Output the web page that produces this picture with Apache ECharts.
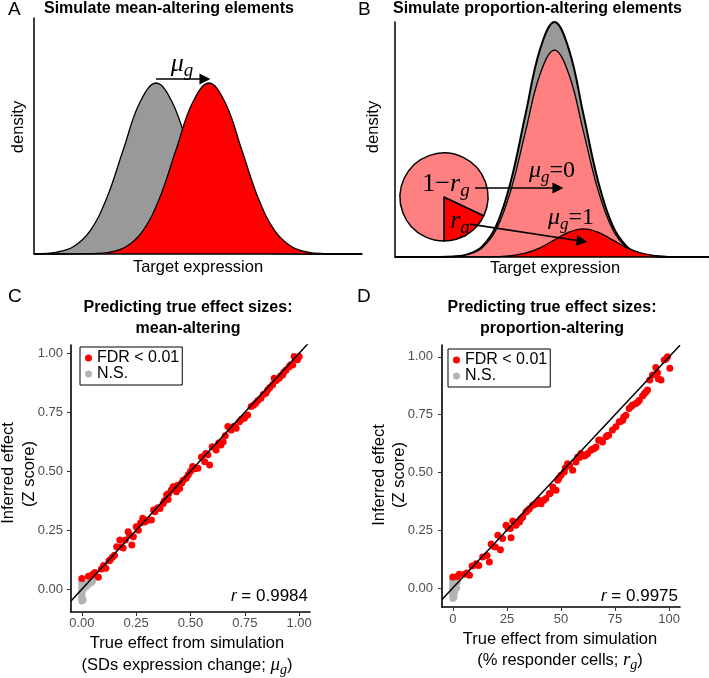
<!DOCTYPE html>
<html lang="en">
<head>
<meta charset="utf-8">
<title>Simulated effects</title>
<script src="https://cdn.jsdelivr.net/npm/echarts@6/dist/echarts.min.js"></script>
</head>
<body style="margin:0;background:#fff">
<div id="main" style="width:709px;height:678px;"></div>
<script>
// A: density curves (x in SD units, y relative density)
var aGray = [[0,0.0011],[0.7,0.0111],[1.2,0.0439],[1.7,0.1353],[2.2,0.3247],[2.7,0.6065],[3.2,0.8825],[3.7,1],[4.2,0.8825],[4.7,0.6065],[5.2,0.3247],[5.7,0.1353],[6.2,0.0439],[6.7,0.0111],[7.2,0.0022],[7.7,0.0003],[9.94,0]];
var aRed = [[0,0],[1.3,0.0003],[1.8,0.0022],[2.3,0.0111],[2.8,0.0439],[3.3,0.1353],[3.8,0.3247],[4.3,0.6065],[4.8,0.8825],[5.3,1],[5.8,0.8825],[6.3,0.6065],[6.8,0.3247],[7.3,0.1353],[7.8,0.0439],[8.3,0.0111],[8.8,0.0022],[9.3,0.0003],[9.94,0]];
// B: whole population, non-responders, responders
var bGray = [[0,0],[1.5,0.0003],[2,0.0022],[2.5,0.0111],[3,0.0439],[3.5,0.1353],[4,0.3247],[4.5,0.6065],[5,0.8825],[5.5,1],[6,0.8825],[6.5,0.6065],[7,0.3247],[7.5,0.1353],[8,0.0439],[8.5,0.0111],[9,0.0022],[9.5,0.0003],[10.83,0]];
var bPink = [[0,0],[1.5,0.0003],[2,0.0019],[2.5,0.0098],[3,0.0386],[3.5,0.1191],[4,0.2857],[4.5,0.5337],[5,0.7766],[5.5,0.88],[6,0.7766],[6.5,0.5337],[7,0.2857],[7.5,0.1191],[8,0.0386],[8.5,0.0098],[9,0.0019],[9.5,0.0003],[10.83,0]];
var bRed = [[0,0],[3,0.0003],[3.5,0.0013],[4,0.0053],[4.5,0.0162],[5,0.039],[5.5,0.0728],[6,0.1059],[6.5,0.12],[7,0.1059],[7.5,0.0728],[8,0.039],[8.5,0.0162],[9,0.0053],[9.5,0.0013],[10,0.0003],[10.83,0]];
var pieShare = [0.18, 0.82];

// C: mean-altering
var cRed = [[0,0.045],[0.03,0.055],[0.045,0.059],[0.053,0.064],[0.06,0.07],[0.076,0.05],[0.09,0.085],[0.1,0.1],[0.11,0.088],[0.125,0.12],[0.13,0.123],[0.14,0.135],[0.15,0.144],[0.16,0.18],[0.175,0.208],[0.18,0.18],[0.19,0.174],[0.2,0.208],[0.213,0.243],[0.22,0.23],[0.23,0.187],[0.237,0.222],[0.25,0.264],[0.26,0.25],[0.27,0.28],[0.28,0.3],[0.29,0.285],[0.305,0.293],[0.32,0.293],[0.33,0.335],[0.336,0.328],[0.35,0.345],[0.36,0.342],[0.374,0.363],[0.38,0.375],[0.39,0.4],[0.397,0.38],[0.4,0.405],[0.412,0.42],[0.42,0.434],[0.435,0.413],[0.44,0.44],[0.45,0.427],[0.46,0.45],[0.466,0.462],[0.48,0.47],[0.49,0.485],[0.5,0.5],[0.51,0.52],[0.52,0.51],[0.534,0.512],[0.55,0.56],[0.565,0.54],[0.57,0.575],[0.58,0.57],[0.588,0.526],[0.6,0.604],[0.61,0.6],[0.618,0.59],[0.63,0.62],[0.64,0.611],[0.65,0.625],[0.66,0.65],[0.672,0.689],[0.687,0.675],[0.7,0.69],[0.71,0.682],[0.725,0.71],[0.735,0.72],[0.748,0.724],[0.763,0.738],[0.779,0.774],[0.79,0.78],[0.8,0.788],[0.81,0.8],[0.824,0.809],[0.835,0.825],[0.847,0.83],[0.855,0.844],[0.865,0.855],[0.878,0.866],[0.885,0.894],[0.895,0.885],[0.908,0.894],[0.915,0.905],[0.924,0.908],[0.93,0.92],[0.94,0.929],[0.954,0.943],[0.96,0.95],[0.97,0.95],[0.977,0.986],[0.985,0.975],[0.992,0.972],[1,0.986]];
var cGray = [[0,-0.05],[0,-0.042],[0,-0.034],[0,-0.026],[0,-0.018],[0,-0.01],[0,-0.002],[0,0.006],[0,0.014],[0,0.022],[0,0.03],[0,0.038],[0.006,-0.045],[0.008,0.002],[0.01,0.015],[0.015,0.008],[0.02,0.01],[0.022,0.025],[0.03,0.02],[0.036,0.03],[0.045,0.028],[0.05,0.035]];
// D: proportion-altering
var dRed = [[0,0.048],[2,0.05],[3,0.06],[5.4,0.06],[6.5,0.065],[7.7,0.055],[8.9,0.095],[10.8,0.105],[11,0.1],[12,0.098],[13.8,0.134],[15.8,0.141],[16.9,0.113],[17.7,0.19],[19,0.18],[19.7,0.177],[20.8,0.228],[22,0.166],[23,0.214],[24.6,0.271],[25.5,0.26],[26.6,0.257],[26.9,0.218],[27.7,0.29],[29.2,0.271],[30.8,0.286],[31.5,0.3],[32.3,0.307],[33.8,0.329],[34.5,0.335],[35.4,0.343],[36.9,0.358],[37.5,0.36],[38.5,0.365],[39.7,0.38],[40.8,0.365],[42,0.38],[43,0.387],[44.6,0.408],[45,0.41],[46.2,0.437],[47.7,0.423],[48.5,0.466],[49,0.475],[50,0.488],[51.5,0.502],[52,0.52],[53,0.538],[54,0.53],[55.4,0.509],[56.9,0.545],[57.7,0.567],[58.5,0.565],[59.2,0.582],[60.8,0.571],[61.5,0.575],[62.3,0.582],[63.8,0.596],[64.5,0.6],[65.4,0.603],[66.2,0.61],[67.4,0.639],[68,0.64],[69.2,0.632],[70.8,0.654],[71.5,0.66],[72,0.661],[73.8,0.683],[75.4,0.697],[76.9,0.719],[77.5,0.72],[78.5,0.726],[79,0.74],[80,0.747],[81.5,0.776],[82.5,0.785],[83.1,0.791],[84.6,0.798],[85.5,0.805],[86.2,0.812],[87.7,0.83],[88.5,0.84],[89.2,0.848],[90,0.856],[91,0.9],[92.3,0.921],[93.8,0.954],[94.6,0.931],[95,0.905],[96.2,0.9],[97.7,0.986],[98.5,0.99],[99.2,1],[100.3,0.95]];
var dGray = [[0,-0.045],[0,-0.036],[0,-0.027],[0,-0.018],[0,-0.009],[0,0],[0,0.009],[0,0.018],[0,0.027],[0,0.036],[0.5,-0.04],[0.8,-0.02],[1,0.01],[1.2,0.03],[1.5,0.02],[1.8,0],[2,0.025],[2.2,0.04]];
var fitC = [[-0.05,-0.05],[1.05,1.05]];
var fitD = [[-5,-0.05],[105,1.05]];

var zTicks = [0, 0.25, 0.5, 0.75, 1];
var cXTicks = [0, 0.25, 0.5, 0.75, 1];
var dXTicks = [0, 25, 50, 75, 100];

var sans = '"Liberation Sans", Arial, sans-serif';
var serif = '"Liberation Serif", "DejaVu Serif", serif';

var myChart = echarts.init(document.getElementById('main'), null, {renderer: 'canvas'});

function bareAxis(grid, min, max) {
    return {
        gridIndex: grid, type: 'value', min: min, max: max, z: 10,
        axisLine: {show: true, onZero: false, lineStyle: {color: '#000', width: 1.5}},
        axisTick: {show: false}, axisLabel: {show: false}, splitLine: {show: false}
    };
}
function tickAxis(grid, min, max, ticks, fmt, margin) {
    return {
        gridIndex: grid, type: 'value', min: min, max: max, z: 10,
        axisLine: {show: true, onZero: false, lineStyle: {color: '#000', width: 1.6}},
        axisTick: {show: true, length: 4, customValues: ticks, lineStyle: {color: '#333', width: 1}},
        axisLabel: {customValues: ticks, formatter: fmt, color: '#4d4d4d', fontSize: 13, fontFamily: sans, margin: margin},
        splitLine: {show: false}
    };
}
function curve(xi, data, fill, w, z) {
    return {
        type: 'line', xAxisIndex: xi, yAxisIndex: xi, data: data, smooth: 0.4, symbol: 'none',
        clip: false, silent: true, z: z,
        lineStyle: {color: '#000', width: w}, areaStyle: {color: fill, opacity: 1}
    };
}
function arrows(lines) {
    return {
        silent: true, symbol: ['none', 'triangle'], symbolSize: 11, z: 8,
        lineStyle: {color: '#000', width: 1.6, type: 'solid'}, label: {show: false},
        data: lines.map(function (l) { return [{coord: l[0]}, {coord: l[1]}]; })
    };
}
function T(x, y, text, font, align, extra) {
    var g = {type: 'text', x: x, y: y, z: 20, silent: true,
        style: {text: text, font: font, fill: '#000', align: align || 'left', verticalAlign: 'middle'}};
    if (extra) {
        if (extra.rotation) g.rotation = extra.rotation;
        if (extra.rich) g.style.rich = extra.rich;
    }
    return g;
}
var mathRich = function (size) {
    return {
        m: {fontFamily: serif, fontStyle: 'italic', fontSize: size},
        n: {fontFamily: serif, fontSize: size},
        s: {fontFamily: serif, fontStyle: 'italic', fontSize: Math.round(size * 0.72), padding: [Math.round(size * 0.55), 0, 0, 0]},
        t: {fontFamily: sans, fontSize: 16.5}
    };
};
var rot = Math.PI / 2;

var option = {
    backgroundColor: '#fff',
    animation: false,
    grid: [
        {left: 34, top: 18, width: 328, height: 236},
        {left: 395, top: 22, width: 314, height: 235},
        {left: 71, top: 345, width: 239, height: 267},
        {left: 442, top: 345, width: 238, height: 262}
    ],
    xAxis: [
        bareAxis(0, 0, 9.94),
        bareAxis(1, 0, 10.83),
        tickAxis(2, -0.05, 1.05, cXTicks, function (v) { return v.toFixed(2); }, 5),
        tickAxis(3, -5, 105, dXTicks, function (v) { return String(v); }, 6)
    ],
    yAxis: [
        bareAxis(0, 0, 1.38),
        bareAxis(1, 0, 1.0),
        tickAxis(2, -0.097, 1.035, zTicks, function (v) { return v.toFixed(2); }, 8),
        tickAxis(3, -0.082, 1.051, zTicks, function (v) { return v.toFixed(2); }, 9)
    ],
    legend: [
        {orient: 'vertical', left: 80, top: 347, padding: [3, 3, 3, 5], itemGap: 0, itemWidth: 7, itemHeight: 7,
         icon: 'circle', borderColor: '#000', borderWidth: 1, selectedMode: false,
         textStyle: {fontFamily: sans, fontSize: 16, color: '#000', lineHeight: 15}, data: ['FDR < 0.01', 'N.S.']},
        {orient: 'vertical', left: 448, top: 349, padding: [3, 3, 3, 5], itemGap: 0, itemWidth: 7, itemHeight: 7,
         icon: 'circle', borderColor: '#000', borderWidth: 1, selectedMode: false,
         textStyle: {fontFamily: sans, fontSize: 16, color: '#000', lineHeight: 15}, data: ['FDR < 0.01', 'N.S.']}
    ],
    series: [
        curve(0, aGray, '#999999', 1.3, 2),
        Object.assign(curve(0, aRed, '#ff0000', 1.3, 3), {markLine: arrows([[[3.7, 1.023], [5.18, 1.023]]])}),
        curve(1, bGray, '#999999', 2, 2),
        curve(1, bPink, '#ff8080', 1.3, 3),
        {
            type: 'pie', center: [444, 197], radius: 44, startAngle: 270, clockwise: false, silent: true, z: 4,
            label: {show: false}, labelLine: {show: false},
            itemStyle: {borderColor: '#000', borderWidth: 1.5},
            data: [
                {name: 'rg', value: pieShare[0], itemStyle: {color: '#ff0000'}},
                {name: '1-rg', value: pieShare[1], itemStyle: {color: '#ff8080'}}
            ]
        },
        Object.assign(curve(1, bRed, '#ff0000', 1.3, 5), {markLine: arrows([
            [[2.76, 0.294], [5.62, 0.294]],
            [[2.59, 0.14], [6.45, 0.067]]
        ])}),
        {name: 'N.S.', type: 'scatter', xAxisIndex: 2, yAxisIndex: 2, data: cGray, symbolSize: 7, itemStyle: {color: '#b3b3b3', opacity: 1}, z: 3},
        {name: 'FDR < 0.01', type: 'scatter', xAxisIndex: 2, yAxisIndex: 2, data: cRed, symbolSize: 7, itemStyle: {color: '#ff0000', opacity: 1}, z: 4},
        {type: 'line', xAxisIndex: 2, yAxisIndex: 2, data: fitC, symbol: 'none', lineStyle: {color: '#000', width: 1.5}, z: 5, silent: true},
        {name: 'N.S.', type: 'scatter', xAxisIndex: 3, yAxisIndex: 3, data: dGray, symbolSize: 7, itemStyle: {color: '#b3b3b3', opacity: 1}, z: 3},
        {name: 'FDR < 0.01', type: 'scatter', xAxisIndex: 3, yAxisIndex: 3, data: dRed, symbolSize: 7, itemStyle: {color: '#ff0000', opacity: 1}, z: 4},
        {type: 'line', xAxisIndex: 3, yAxisIndex: 3, data: fitD, symbol: 'none', lineStyle: {color: '#000', width: 1.5}, z: 5, silent: true}
    ],
    graphic: [
        T(8, 10, 'A', '19px ' + sans),
        T(44, 9, 'Simulate mean-altering elements', 'bold 16px ' + sans),
        T(18, 127, 'density', '16.5px ' + sans, 'center', {rotation: rot}),
        T(198, 267, 'Target expression', '16.5px ' + sans, 'center'),
        T(182, 64, '{m|μ}{s|g}', '26px ' + serif, 'center', {rich: mathRich(26)}),

        T(358, 10, 'B', '19px ' + sans),
        T(393, 9, 'Simulate proportion-altering elements', 'bold 16px ' + sans),
        T(373, 127, 'density', '16.5px ' + sans, 'center', {rotation: rot}),
        T(555, 268, 'Target expression', '16.5px ' + sans, 'center'),
        T(446, 184, '{n|1−}{m|r}{s|g}', '26px ' + serif, 'center', {rich: mathRich(26)}),
        T(460, 221, '{m|r}{s|g}', '26px ' + serif, 'center', {rich: mathRich(26)}),
        T(552, 171, '{m|μ}{s|g}{n|=0}', '24px ' + serif, 'center', {rich: mathRich(24)}),
        T(571, 218, '{m|μ}{s|g}{n|=1}', '24px ' + serif, 'center', {rich: mathRich(24)}),

        T(8, 297, 'C', '19px ' + sans),
        T(188, 308, 'Predicting true effect sizes:', 'bold 16px ' + sans, 'center'),
        T(188, 329, 'mean-altering', 'bold 16px ' + sans, 'center'),
        T(8, 473, 'Inferred effect', '16.5px ' + sans, 'center', {rotation: rot}),
        T(29, 474, '(Z score)', '16.5px ' + sans, 'center', {rotation: rot}),
        T(187, 643, 'True effect from simulation', '16.5px ' + sans, 'center'),
        T(187, 665, '{t|(SDs expression change; }{m|μ}{s|g}{t|)}', '16.5px ' + sans, 'center', {rich: mathRich(19)}),
        T(308, 596, '{i|r} = 0.9984', '17px ' + sans, 'right', {rich: {i: {fontFamily: sans, fontStyle: 'italic', fontSize: 17}}}),

        T(357, 297, 'D', '19px ' + sans),
        T(552, 308, 'Predicting true effect sizes:', 'bold 16px ' + sans, 'center'),
        T(552, 329, 'proportion-altering', 'bold 16px ' + sans, 'center'),
        T(379, 475, 'Inferred effect', '16.5px ' + sans, 'center', {rotation: rot}),
        T(399, 475, '(Z score)', '16.5px ' + sans, 'center', {rotation: rot}),
        T(560, 639, 'True effect from simulation', '16.5px ' + sans, 'center'),
        T(560, 660, '{t|(% responder cells; }{m|r}{s|g}{t|)}', '16.5px ' + sans, 'center', {rich: mathRich(19)}),
        T(678, 596, '{i|r} = 0.9975', '17px ' + sans, 'right', {rich: {i: {fontFamily: sans, fontStyle: 'italic', fontSize: 17}}})
    ]
};

myChart.setOption(option);
</script>
</body>
</html>
